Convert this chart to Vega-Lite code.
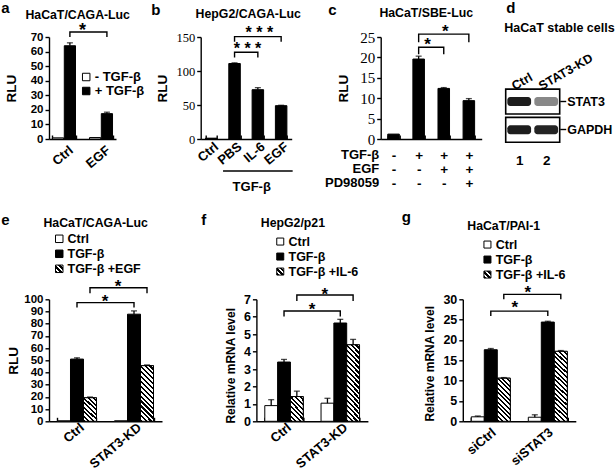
{
"$schema": "https://vega.github.io/schema/vega-lite/v6.json",
"padding": {"left": 0, "top": 0, "right": 0, "bottom": 0},
"background": "white",
"config": {
  "font": "Liberation Sans",
  "view": {"stroke": null},
  "axis": {"grid": false, "labelOverlap": false, "domainColor": "#000", "domainWidth": 1.4, "tickColor": "#000", "tickWidth": 1.4, "labelColor": "#000", "titleColor": "#000", "labelFont": "Liberation Sans", "labelFontWeight": "bold", "titleFont": "Liberation Sans", "titleFontWeight": "bold"},
  "axisY": {"tickSize": 4, "labelPadding": 2},
  "axisX": {"tickSize": -4, "tickBand": "extent", "labelAngle": -40, "labelAlign": "right", "labelBaseline": "middle"},
  "legend": {"orient": "none", "direction": "vertical", "symbolType": "square", "symbolStrokeColor": "#000", "symbolStrokeWidth": 1, "labelFont": "Liberation Sans", "labelFontWeight": "bold", "labelColor": "#000", "padding": 0, "labelOffset": 2}
},
"datasets": {
  "a": [{"grp":"Ctrl","tgf":"- TGF-β","v":0.8},{"grp":"Ctrl","tgf":"+ TGF-β","v":64,"hi":66},{"grp":"EGF","tgf":"- TGF-β","v":1},{"grp":"EGF","tgf":"+ TGF-β","v":17.4,"hi":18.4}],
  "a_br": [{"id":1,"grp":"Ctrl","tgf":"+ TGF-β","y":70,"o":1},{"id":1,"grp":"Ctrl","tgf":"+ TGF-β","y":73.4,"o":2},{"id":1,"grp":"EGF","tgf":"+ TGF-β","y":73.4,"o":3},{"id":1,"grp":"EGF","tgf":"+ TGF-β","y":70,"o":4}],
  "a_star": [{"grp":"Ctrl","tgf":"+ TGF-β","y":70.5,"t":"*"}],
  "b": [{"c":"Ctrl","v":1.2},{"c":"PBS","v":111,"hi":112},{"c":"IL-6","v":72.5,"hi":75.5},{"c":"EGF","v":49,"hi":49.6}],
  "b_br": [{"id":1,"c":"PBS","y":120,"o":1},{"id":1,"c":"PBS","y":127.5,"o":2},{"id":1,"c":"IL-6","y":127.5,"o":3},{"id":1,"c":"IL-6","y":120,"o":4},{"id":2,"c":"PBS","y":143,"o":1},{"id":2,"c":"PBS","y":150.5,"o":2},{"id":2,"c":"EGF","y":150.5,"o":3},{"id":2,"c":"EGF","y":143,"o":4}],
  "b_s1": [{"c":"IL-6","y":147.8,"t":"* * *"}],
  "b_s2": [{"c":"PBS","y":124.7,"t":"* * *"}],
  "b_tgf": [{"from":"PBS","to":"EGF"}],
  "c": [{"k":"-|-|-","v":1.2},{"k":"+|-|-","v":19.6,"hi":20.3},{"k":"+|+|-","v":12.4,"hi":12.6},{"k":"+|+|+","v":9.4,"hi":9.9}],
  "c_br": [{"id":1,"k":"+|-|-","y":20.8,"o":1},{"id":1,"k":"+|-|-","y":22.5,"o":2},{"id":1,"k":"+|+|-","y":22.5,"o":3},{"id":1,"k":"+|+|-","y":20.8,"o":4},{"id":2,"k":"+|-|-","y":23.7,"o":1},{"id":2,"k":"+|-|-","y":25.7,"o":2},{"id":2,"k":"+|+|+","y":25.7,"o":3},{"id":2,"k":"+|+|+","y":23.7,"o":4}],
  "c_s1": [{"k":"+|+|-","y":25.0,"t":"*"}],
  "c_s2": [{"k":"+|-|-","y":21.7,"t":"*"}],
  "d_box": [{"row":"STAT3"},{"row":"GAPDH"}],
  "d_band": [{"lane":"1","row":"STAT3","i":0.95},{"lane":"2","row":"STAT3","i":0.5},{"lane":"1","row":"GAPDH","i":0.95},{"lane":"2","row":"GAPDH","i":0.92}],
  "d_name": [{"lane":"1","row":"STAT3","name":"Ctrl"},{"lane":"2","row":"STAT3","name":"STAT3-KD"}],
  "e": [{"grp":"Ctrl","cond":"Ctrl","v":0.4},{"grp":"Ctrl","cond":"TGF-β","v":51,"hi":52},{"grp":"Ctrl","cond":"TGF-β +EGF","v":19.3,"hi":19.9},{"grp":"STAT3-KD","cond":"Ctrl","v":0.4},{"grp":"STAT3-KD","cond":"TGF-β","v":87.8,"hi":90.5},{"grp":"STAT3-KD","cond":"TGF-β +EGF","v":45.6,"hi":46.2}],
  "e_br": [{"id":1,"grp":"Ctrl","cond":"TGF-β","y":93.2,"o":1},{"id":1,"grp":"Ctrl","cond":"TGF-β","y":97.3,"o":2},{"id":1,"grp":"STAT3-KD","cond":"TGF-β","y":97.3,"o":3},{"id":1,"grp":"STAT3-KD","cond":"TGF-β","y":93.2,"o":4},{"id":2,"grp":"Ctrl","cond":"TGF-β +EGF","y":104.9,"o":1},{"id":2,"grp":"Ctrl","cond":"TGF-β +EGF","y":109.5,"o":2},{"id":2,"grp":"STAT3-KD","cond":"TGF-β +EGF","y":109.5,"o":3},{"id":2,"grp":"STAT3-KD","cond":"TGF-β +EGF","y":104.9,"o":4}],
  "e_star": [{"grp":"Ctrl","cond":"TGF-β","y":93.9,"t":"*"},{"grp":"Ctrl","cond":"TGF-β +EGF","y":106.3,"t":"*"}],
  "f": [{"grp":"Ctrl","cond":"Ctrl","v":0.9,"hi":1.24},{"grp":"Ctrl","cond":"TGF-β","v":3.4,"hi":3.55},{"grp":"Ctrl","cond":"TGF-β +IL-6","v":1.42,"hi":1.73},{"grp":"STAT3-KD","cond":"Ctrl","v":1.04,"hi":1.32},{"grp":"STAT3-KD","cond":"TGF-β","v":5.64,"hi":5.85},{"grp":"STAT3-KD","cond":"TGF-β +IL-6","v":4.39,"hi":4.7}],
  "f_br": [{"id":1,"grp":"Ctrl","cond":"TGF-β","y":6.01,"o":1},{"id":1,"grp":"Ctrl","cond":"TGF-β","y":6.33,"o":2},{"id":1,"grp":"STAT3-KD","cond":"TGF-β","y":6.33,"o":3},{"id":1,"grp":"STAT3-KD","cond":"TGF-β","y":6.01,"o":4},{"id":2,"grp":"Ctrl","cond":"TGF-β +IL-6","y":6.9,"o":1},{"id":2,"grp":"Ctrl","cond":"TGF-β +IL-6","y":7.25,"o":2},{"id":2,"grp":"STAT3-KD","cond":"TGF-β +IL-6","y":7.25,"o":3},{"id":2,"grp":"STAT3-KD","cond":"TGF-β +IL-6","y":6.9,"o":4}],
  "f_star": [{"grp":"Ctrl","cond":"TGF-β","y":6.1,"t":"*"},{"grp":"Ctrl","cond":"TGF-β +IL-6","y":6.96,"t":"*"}],
  "g": [{"grp":"siCtrl","cond":"Ctrl","v":1.1,"hi":1.3},{"grp":"siCtrl","cond":"TGF-β","v":17.6,"hi":17.9},{"grp":"siCtrl","cond":"TGF-β +IL-6","v":10.6,"hi":10.75},{"grp":"siSTAT3","cond":"Ctrl","v":1.0,"hi":1.6},{"grp":"siSTAT3","cond":"TGF-β","v":24.4,"hi":24.6},{"grp":"siSTAT3","cond":"TGF-β +IL-6","v":17.2,"hi":17.4}],
  "g_br": [{"id":1,"grp":"siCtrl","cond":"TGF-β","y":25.9,"o":1},{"id":1,"grp":"siCtrl","cond":"TGF-β","y":27.1,"o":2},{"id":1,"grp":"siSTAT3","cond":"TGF-β","y":27.1,"o":3},{"id":1,"grp":"siSTAT3","cond":"TGF-β","y":25.9,"o":4},{"id":2,"grp":"siCtrl","cond":"TGF-β +IL-6","y":30.0,"o":1},{"id":2,"grp":"siCtrl","cond":"TGF-β +IL-6","y":31.2,"o":2},{"id":2,"grp":"siSTAT3","cond":"TGF-β +IL-6","y":31.2,"o":3},{"id":2,"grp":"siSTAT3","cond":"TGF-β +IL-6","y":30.0,"o":4}],
  "g_star": [{"grp":"siCtrl","cond":"TGF-β","y":26.65,"t":"*"},{"grp":"siCtrl","cond":"TGF-β +IL-6","y":30.3,"t":"*"}]
},
"spacing": 262.3,
"bounds": "flush",
"resolve": {"scale": {"fill": "independent", "xOffset": "independent", "opacity": "independent"}, "legend": {"fill": "independent"}},
"vconcat": [
{
 "spacing": 84.7, "bounds": "flush",
 "resolve": {"scale": {"fill": "independent", "xOffset": "independent", "opacity": "independent"}, "legend": {"fill": "independent"}},
 "hconcat": [
 {
  "width": 67, "height": 102,
  "resolve": {"axis": {"x": "independent", "y": "independent"}},
  "layer": [
   {"data": {"name": "a"}, "mark": {"type": "bar", "stroke": "#000", "strokeWidth": 1},
    "encoding": {
     "x": {"field": "grp", "type": "nominal", "scale": {"domain": ["Ctrl","EGF"], "paddingInner": 0.378, "paddingOuter": 0.094}, "axis": {"title": null, "domain": true, "ticks": true, "labelFontSize": 13, "labelPadding": 13, "labelOffset": 7}},
     "xOffset": {"field": "tgf", "type": "nominal", "scale": {"domain": ["- TGF-β","+ TGF-β"], "paddingInner": 0.05, "paddingOuter": 0}},
     "y": {"field": "v", "type": "quantitative", "scale": {"domain": [0,70], "nice": false}, "axis": {"values": [0,10,20,30,40,50,60,70], "labelOverlap": false, "title": "RLU", "domain": true, "ticks": true, "titleFontSize": 13.5, "labelFontSize": 11.5, "titlePadding": 12}},
     "fill": {"field": "tgf", "type": "nominal", "scale": {"domain": ["- TGF-β","+ TGF-β"], "range": ["#fff","#000"]}, "legend": {"title": null, "orient": "none", "legendX": 30.7, "legendY": 33.5, "symbolSize": 56, "labelFontSize": 13, "rowPadding": 0}}
    }},
   {"data": {"name": "a"}, "transform": [{"filter": "isValid(datum.hi)"}], "mark": {"type": "rule", "color": "#000", "strokeWidth": 1.3},
    "encoding": {"x": {"field": "grp", "type": "nominal", "axis": null}, "xOffset": {"field": "tgf", "type": "nominal"}, "y": {"field": "v", "type": "quantitative", "axis": null}, "y2": {"field": "hi"}}},
   {"data": {"name": "a"}, "transform": [{"filter": "isValid(datum.hi)"}], "mark": {"type": "tick", "orient": "horizontal", "size": 6, "thickness": 1.3, "color": "#000"},
    "encoding": {"x": {"field": "grp", "type": "nominal", "axis": null}, "xOffset": {"field": "tgf", "type": "nominal"}, "y": {"field": "hi", "type": "quantitative", "axis": null}}},
   {"data": {"name": "a_br"}, "mark": {"type": "line", "color": "#000", "strokeWidth": 1.4},
    "encoding": {"x": {"field": "grp", "type": "nominal", "axis": {"orient": "top", "labels": false, "ticks": false, "domain": false, "title": "HaCaT/CAGA-Luc", "titleFontSize": 12.3, "titleAlign": "center", "titleBaseline": "alphabetic", "titleX": 28.2, "titleY": -18.6}},
     "xOffset": {"field": "tgf", "type": "nominal"}, "y": {"field": "y", "type": "quantitative", "axis": null}, "detail": {"field": "id", "type": "nominal"}, "order": {"field": "o", "type": "quantitative"}}},
   {"data": {"name": "a_star"}, "mark": {"type": "text", "fontSize": 18, "fontWeight": "bold", "font": "Liberation Sans", "dx": 12.6, "align": "center", "baseline": "alphabetic"},
    "encoding": {"x": {"field": "grp", "type": "nominal", "axis": {"orient": "top", "labels": false, "ticks": false, "domain": false, "title": "a", "titleFontSize": 15, "titleAlign": "left", "titleBaseline": "alphabetic", "titleX": -48.3, "titleY": -24.7}},
     "xOffset": {"field": "tgf", "type": "nominal"}, "y": {"field": "y", "type": "quantitative", "axis": null}, "text": {"field": "t"}}}
  ]
 },
 {
  "spacing": 89, "bounds": "flush",
  "resolve": {"scale": {"fill": "independent", "xOffset": "independent", "opacity": "independent"}, "legend": {"fill": "independent"}},
  "hconcat": [
  {
   "width": 91, "height": 102,
   "resolve": {"axis": {"x": "independent", "y": "independent"}},
   "layer": [
    {"data": {"name": "b"}, "mark": {"type": "bar", "fill": "#000", "stroke": "#000", "strokeWidth": 1},
     "encoding": {
      "x": {"field": "c", "type": "nominal", "scale": {"domain": ["Ctrl","PBS","IL-6","EGF"], "paddingInner": 0.506, "paddingOuter": 0.206}, "axis": {"title": "TGF-β", "domain": true, "ticks": true, "titleFontSize": 13, "titleX": 50.5, "titleY": 47, "titleBaseline": "middle", "titleAlign": "center", "labelFontSize": 13, "labelPadding": 9.6, "labelOffset": 5}},
      "y": {"field": "v", "type": "quantitative", "scale": {"domain": [0,150], "nice": false}, "axis": {"values": [0,50,100,150], "labelOverlap": false, "title": "RLU", "domain": true, "ticks": true, "titleFontSize": 13.5, "labelFont": "Liberation Serif", "labelFontWeight": "normal", "labelFontSize": 12.5, "titlePadding": 6}}
     }},
    {"data": {"name": "b"}, "transform": [{"filter": "isValid(datum.hi)"}], "mark": {"type": "rule", "color": "#000", "strokeWidth": 1.3},
     "encoding": {"x": {"field": "c", "type": "nominal", "axis": null}, "y": {"field": "v", "type": "quantitative", "axis": null}, "y2": {"field": "hi"}}},
    {"data": {"name": "b"}, "transform": [{"filter": "isValid(datum.hi)"}], "mark": {"type": "tick", "orient": "horizontal", "size": 6, "thickness": 1.3, "color": "#000"},
     "encoding": {"x": {"field": "c", "type": "nominal", "axis": null}, "y": {"field": "hi", "type": "quantitative", "axis": null}}},
    {"data": {"name": "b_tgf"}, "mark": {"type": "rule", "color": "#000", "strokeWidth": 1.4},
     "encoding": {"x": {"field": "from", "type": "nominal", "bandPosition": -0.5, "axis": null}, "x2": {"field": "to", "bandPosition": 1.5}, "y": {"datum": -47, "type": "quantitative", "axis": null}}},
    {"data": {"name": "b_br"}, "mark": {"type": "line", "color": "#000", "strokeWidth": 1.4},
     "encoding": {"x": {"field": "c", "type": "nominal", "axis": {"orient": "top", "labels": false, "ticks": false, "domain": false, "title": "HepG2/CAGA-Luc", "titleFontSize": 12.3, "titleAlign": "center", "titleBaseline": "alphabetic", "titleX": 47, "titleY": -19.5}},
      "y": {"field": "y", "type": "quantitative", "axis": null}, "detail": {"field": "id", "type": "nominal"}, "order": {"field": "o", "type": "quantitative"}}},
    {"data": {"name": "b_s1"}, "mark": {"type": "text", "fontSize": 16, "fontWeight": "bold", "font": "Liberation Sans", "dx": 1.5, "align": "center", "baseline": "alphabetic"},
     "encoding": {"x": {"field": "c", "type": "nominal", "axis": {"orient": "top", "labels": false, "ticks": false, "domain": false, "title": "b", "titleFontSize": 15, "titleAlign": "left", "titleBaseline": "alphabetic", "titleX": -50, "titleY": -23}},
      "y": {"field": "y", "type": "quantitative", "axis": null}, "text": {"field": "t"}}},
    {"data": {"name": "b_s2"}, "mark": {"type": "text", "fontSize": 16, "fontWeight": "bold", "font": "Liberation Sans", "dx": 13, "align": "center", "baseline": "alphabetic"},
     "encoding": {"x": {"field": "c", "type": "nominal", "axis": null}, "y": {"field": "y", "type": "quantitative", "axis": null}, "text": {"field": "t"}}}
   ]
  },
  {
   "spacing": 24, "bounds": "flush",
   "resolve": {"scale": {"fill": "independent", "xOffset": "independent", "opacity": "independent"}, "legend": {"fill": "independent"}},
   "hconcat": [
   {
    "width": 101, "height": 102,
    "resolve": {"axis": {"x": "independent", "y": "independent"}},
    "layer": [
     {"data": {"name": "c"}, "mark": {"type": "bar", "fill": "#000", "stroke": "#000", "strokeWidth": 1},
      "encoding": {
       "x": {"field": "k", "type": "nominal", "scale": {"domain": ["-|-|-","+|-|-","+|+|-","+|+|+"], "paddingInner": 0.54, "paddingOuter": 0.282},
        "axis": {"title": ["TGF-β","EGF","PD98059"], "domain": true, "ticks": true, "titleX": -2, "titleY": 9.4, "titleAlign": "right", "titleBaseline": "top", "titleAngle": 0, "titleLineHeight": 14.2, "titleFontSize": 13, "labelExpr": "split(datum.label, '|')", "labelAngle": 0, "labelAlign": "center", "labelBaseline": "top", "labelLineHeight": 14.2, "labelFontSize": 13.5, "labelPadding": 13.4, "labelOffset": 0}},
       "y": {"field": "v", "type": "quantitative", "scale": {"domain": [0,25], "nice": false}, "axis": {"values": [0,5,10,15,20,25], "labelOverlap": false, "title": "RLU", "domain": true, "ticks": true, "titleFontSize": 13.5, "labelFont": "Liberation Serif", "labelFontWeight": "normal", "labelFontSize": 15, "titlePadding": 9}}
      }},
     {"data": {"name": "c"}, "transform": [{"filter": "isValid(datum.hi)"}], "mark": {"type": "rule", "color": "#000", "strokeWidth": 1.3},
      "encoding": {"x": {"field": "k", "type": "nominal", "axis": null}, "y": {"field": "v", "type": "quantitative", "axis": null}, "y2": {"field": "hi"}}},
     {"data": {"name": "c"}, "transform": [{"filter": "isValid(datum.hi)"}], "mark": {"type": "tick", "orient": "horizontal", "size": 6, "thickness": 1.3, "color": "#000"},
      "encoding": {"x": {"field": "k", "type": "nominal", "axis": null}, "y": {"field": "hi", "type": "quantitative", "axis": null}}},
     {"data": {"name": "c_br"}, "mark": {"type": "line", "color": "#000", "strokeWidth": 1.4},
      "encoding": {"x": {"field": "k", "type": "nominal", "axis": {"orient": "top", "labels": false, "ticks": false, "domain": false, "title": "HaCaT/SBE-Luc", "titleFontSize": 12.3, "titleAlign": "center", "titleBaseline": "alphabetic", "titleX": 45, "titleY": -20.2}},
       "y": {"field": "y", "type": "quantitative", "axis": null}, "detail": {"field": "id", "type": "nominal"}, "order": {"field": "o", "type": "quantitative"}}},
     {"data": {"name": "c_s1"}, "mark": {"type": "text", "fontSize": 17, "fontWeight": "bold", "font": "Liberation Sans", "dx": 1.5, "align": "center", "baseline": "alphabetic"},
      "encoding": {"x": {"field": "k", "type": "nominal", "axis": {"orient": "top", "labels": false, "ticks": false, "domain": false, "title": "c", "titleFontSize": 15, "titleAlign": "left", "titleBaseline": "alphabetic", "titleX": -53, "titleY": -23}},
       "y": {"field": "y", "type": "quantitative", "axis": null}, "text": {"field": "t"}}},
     {"data": {"name": "c_s2"}, "mark": {"type": "text", "fontSize": 17, "fontWeight": "bold", "font": "Liberation Sans", "dx": 9, "align": "center", "baseline": "alphabetic"},
      "encoding": {"x": {"field": "k", "type": "nominal", "axis": null}, "y": {"field": "y", "type": "quantitative", "axis": null}, "text": {"field": "t"}}}
    ]
   },
   {
    "width": 54, "height": 105.3,
    "resolve": {"axis": {"x": "independent", "y": "independent"}},
    "layer": [
     {"data": {"name": "d_box"}, "mark": {"type": "rect", "fill": "#fff", "stroke": "#000", "strokeWidth": 1.6},
      "encoding": {"y": {"field": "row", "type": "nominal", "scale": {"domain": ["STAT3","GAPDH"], "paddingInner": 0.12, "paddingOuter": 0.92, "align": 1},
        "axis": {"orient": "right", "title": null, "domain": false, "ticks": true, "tickSize": 6, "tickWidth": 1.4, "labelFontSize": 12.5, "labelPadding": 1}}}},
     {"data": {"name": "d_band"}, "mark": {"type": "rect", "width": {"band": 0.88}, "height": {"band": 0.36}, "cornerRadius": 3, "fill": "#111"},
      "encoding": {"x": {"field": "lane", "type": "nominal", "scale": {"domain": ["1","2"], "paddingInner": 0, "paddingOuter": 0},
        "axis": {"orient": "bottom", "title": null, "domain": false, "ticks": false, "labelAngle": 0, "labelAlign": "center", "labelBaseline": "top", "labelFontSize": 13.5, "labelPadding": 11}},
       "y": {"field": "row", "type": "nominal", "axis": null},
       "opacity": {"field": "i", "type": "quantitative", "scale": null, "legend": null}}},
     {"data": {"name": "d_name"}, "mark": {"type": "text", "angle": -30, "align": "left", "baseline": "alphabetic", "dx": -4.5, "dy": -1, "fontSize": 12.5, "fontWeight": "bold", "font": "Liberation Sans"},
      "encoding": {"x": {"field": "lane", "type": "nominal", "axis": {"orient": "top", "labels": false, "ticks": false, "domain": false, "title": "d", "titleFontSize": 15, "titleAlign": "left", "titleBaseline": "alphabetic", "titleX": 0, "titleY": -24.7}},
       "y": {"field": "row", "type": "nominal", "bandPosition": 0, "axis": {"orient": "left", "labels": false, "ticks": false, "domain": false, "title": "HaCaT stable cells", "titleAngle": 0, "titleAlign": "left", "titleBaseline": "alphabetic", "titleX": -2, "titleY": -5.3, "titleFontSize": 12.5}},
       "text": {"field": "name"}}}
    ]
   }
   ]
  }
  ]
 }
 ]
},
{
 "spacing": 94.4, "bounds": "flush",
 "resolve": {"scale": {"fill": "independent", "xOffset": "independent", "opacity": "independent"}, "legend": {"fill": "independent"}},
 "hconcat": [
 {
  "width": 113, "height": 122,
  "resolve": {"axis": {"x": "independent", "y": "independent"}},
  "layer": [
   {"data": {"name": "e"}, "mark": {"type": "bar", "stroke": "#000", "strokeWidth": 1},
    "encoding": {
     "x": {"field": "grp", "type": "nominal", "scale": {"domain": ["Ctrl","STAT3-KD"], "paddingInner": 0.316, "paddingOuter": 0.149}, "axis": {"title": null, "domain": true, "ticks": true, "labelFontSize": 13, "labelPadding": 8, "labelOffset": 5}},
     "xOffset": {"field": "cond", "type": "nominal", "scale": {"domain": ["Ctrl","TGF-β","TGF-β +EGF"], "paddingInner": 0, "paddingOuter": 0}},
     "y": {"field": "v", "type": "quantitative", "scale": {"domain": [0,100], "nice": false}, "axis": {"values": [0,10,20,30,40,50,60,70,80,90,100], "labelOverlap": false, "title": "RLU", "domain": true, "ticks": true, "titleFontSize": 13.5, "labelFontSize": 11.5, "titlePadding": 3}},
     "fill": {"field": "cond", "type": "nominal", "scale": {"domain": ["Ctrl","TGF-β","TGF-β +EGF"], "range": ["#fff","#000",{"expr":"{gradient:'linear',x1:0,y1:1,x2:1,y2:0,stops:[{offset:0,color:'#000'},{offset:0.2,color:'#000'},{offset:0.2,color:'#fff'},{offset:0.333,color:'#fff'},{offset:0.333,color:'#000'},{offset:0.533,color:'#000'},{offset:0.533,color:'#fff'},{offset:0.667,color:'#fff'},{offset:0.667,color:'#000'},{offset:0.867,color:'#000'},{offset:0.867,color:'#fff'},{offset:1,color:'#fff'}]}"}]},
      "legend": {"title": null, "orient": "none", "legendX": 4, "legendY": -66.75, "symbolSize": 56, "labelFontSize": 12.5, "rowPadding": 2}}
    }},
   {"data": {"name": "e"}, "transform": [{"filter": "datum.cond == 'TGF-β +EGF' && datum.grp == 'Ctrl'"}],
    "mark": {"type": "bar", "stroke": "#000", "strokeWidth": 1, "fill": {"gradient":"linear","x1":0,"y1":1,"x2":0.644,"y2":-0.192,"stops":[{"offset":0,"color":"#000"},{"offset":0.0563,"color":"#000"},{"offset":0.0563,"color":"#fff"},{"offset":0.125,"color":"#fff"},{"offset":0.125,"color":"#000"},{"offset":0.1813,"color":"#000"},{"offset":0.1813,"color":"#fff"},{"offset":0.25,"color":"#fff"},{"offset":0.25,"color":"#000"},{"offset":0.3063,"color":"#000"},{"offset":0.3063,"color":"#fff"},{"offset":0.375,"color":"#fff"},{"offset":0.375,"color":"#000"},{"offset":0.4313,"color":"#000"},{"offset":0.4313,"color":"#fff"},{"offset":0.5,"color":"#fff"},{"offset":0.5,"color":"#000"},{"offset":0.5563,"color":"#000"},{"offset":0.5563,"color":"#fff"},{"offset":0.625,"color":"#fff"},{"offset":0.625,"color":"#000"},{"offset":0.6813,"color":"#000"},{"offset":0.6813,"color":"#fff"},{"offset":0.75,"color":"#fff"},{"offset":0.75,"color":"#000"},{"offset":0.8063,"color":"#000"},{"offset":0.8063,"color":"#fff"},{"offset":0.875,"color":"#fff"},{"offset":0.875,"color":"#000"},{"offset":0.9313,"color":"#000"},{"offset":0.9313,"color":"#fff"},{"offset":1,"color":"#fff"}]}},
    "encoding": {"x": {"field": "grp", "type": "nominal", "axis": null}, "xOffset": {"field": "cond", "type": "nominal"}, "y": {"field": "v", "type": "quantitative", "axis": null}}},
   {"data": {"name": "e"}, "transform": [{"filter": "datum.cond == 'TGF-β +EGF' && datum.grp == 'STAT3-KD'"}],
    "mark": {"type": "bar", "stroke": "#000", "strokeWidth": 1, "fill": {"gradient":"linear","x1":0,"y1":1,"x2":0.274,"y2":-0.17,"stops":[{"offset":0,"color":"#000"},{"offset":0.0321,"color":"#000"},{"offset":0.0321,"color":"#fff"},{"offset":0.0714,"color":"#fff"},{"offset":0.0714,"color":"#000"},{"offset":0.1036,"color":"#000"},{"offset":0.1036,"color":"#fff"},{"offset":0.1429,"color":"#fff"},{"offset":0.1429,"color":"#000"},{"offset":0.175,"color":"#000"},{"offset":0.175,"color":"#fff"},{"offset":0.2143,"color":"#fff"},{"offset":0.2143,"color":"#000"},{"offset":0.2464,"color":"#000"},{"offset":0.2464,"color":"#fff"},{"offset":0.2857,"color":"#fff"},{"offset":0.2857,"color":"#000"},{"offset":0.3179,"color":"#000"},{"offset":0.3179,"color":"#fff"},{"offset":0.3571,"color":"#fff"},{"offset":0.3571,"color":"#000"},{"offset":0.3893,"color":"#000"},{"offset":0.3893,"color":"#fff"},{"offset":0.4286,"color":"#fff"},{"offset":0.4286,"color":"#000"},{"offset":0.4607,"color":"#000"},{"offset":0.4607,"color":"#fff"},{"offset":0.5,"color":"#fff"},{"offset":0.5,"color":"#000"},{"offset":0.5321,"color":"#000"},{"offset":0.5321,"color":"#fff"},{"offset":0.5714,"color":"#fff"},{"offset":0.5714,"color":"#000"},{"offset":0.6036,"color":"#000"},{"offset":0.6036,"color":"#fff"},{"offset":0.6429,"color":"#fff"},{"offset":0.6429,"color":"#000"},{"offset":0.675,"color":"#000"},{"offset":0.675,"color":"#fff"},{"offset":0.7143,"color":"#fff"},{"offset":0.7143,"color":"#000"},{"offset":0.7464,"color":"#000"},{"offset":0.7464,"color":"#fff"},{"offset":0.7857,"color":"#fff"},{"offset":0.7857,"color":"#000"},{"offset":0.8179,"color":"#000"},{"offset":0.8179,"color":"#fff"},{"offset":0.8571,"color":"#fff"},{"offset":0.8571,"color":"#000"},{"offset":0.8893,"color":"#000"},{"offset":0.8893,"color":"#fff"},{"offset":0.9286,"color":"#fff"},{"offset":0.9286,"color":"#000"},{"offset":0.9607,"color":"#000"},{"offset":0.9607,"color":"#fff"},{"offset":1,"color":"#fff"}]}},
    "encoding": {"x": {"field": "grp", "type": "nominal", "axis": null}, "xOffset": {"field": "cond", "type": "nominal"}, "y": {"field": "v", "type": "quantitative", "axis": null}}},
   {"data": {"name": "e"}, "transform": [{"filter": "isValid(datum.hi)"}], "mark": {"type": "rule", "color": "#000", "strokeWidth": 1.3},
    "encoding": {"x": {"field": "grp", "type": "nominal", "axis": null}, "xOffset": {"field": "cond", "type": "nominal"}, "y": {"field": "v", "type": "quantitative", "axis": null}, "y2": {"field": "hi"}}},
   {"data": {"name": "e"}, "transform": [{"filter": "isValid(datum.hi)"}], "mark": {"type": "tick", "orient": "horizontal", "size": 6, "thickness": 1.3, "color": "#000"},
    "encoding": {"x": {"field": "grp", "type": "nominal", "axis": null}, "xOffset": {"field": "cond", "type": "nominal"}, "y": {"field": "hi", "type": "quantitative", "axis": null}}},
   {"data": {"name": "e_br"}, "mark": {"type": "line", "color": "#000", "strokeWidth": 1.4},
    "encoding": {"x": {"field": "grp", "type": "nominal", "axis": {"orient": "top", "labels": false, "ticks": false, "domain": false, "title": "HaCaT/CAGA-Luc", "titleFontSize": 12.3, "titleAlign": "center", "titleBaseline": "alphabetic", "titleX": 46.2, "titleY": -72.9}},
     "xOffset": {"field": "cond", "type": "nominal"}, "y": {"field": "y", "type": "quantitative", "axis": null}, "detail": {"field": "id", "type": "nominal"}, "order": {"field": "o", "type": "quantitative"}}},
   {"data": {"name": "e_star"}, "mark": {"type": "text", "fontSize": 17, "fontWeight": "bold", "font": "Liberation Sans", "dx": 28, "align": "center", "baseline": "alphabetic"},
    "encoding": {"x": {"field": "grp", "type": "nominal", "axis": {"orient": "top", "labels": false, "ticks": false, "domain": false, "title": "e", "titleFontSize": 15, "titleAlign": "left", "titleBaseline": "alphabetic", "titleX": -48.3, "titleY": -75}},
     "xOffset": {"field": "cond", "type": "nominal"}, "y": {"field": "y", "type": "quantitative", "axis": null}, "text": {"field": "t"}}}
  ]
 },
 {
   "width": 111.5, "height": 122,
   "resolve": {"axis": {"x": "independent", "y": "independent"}},
   "layer": [
    {"data": {"name": "f"}, "mark": {"type": "bar", "stroke": "#000", "strokeWidth": 1},
     "encoding": {
      "x": {"field": "grp", "type": "nominal", "scale": {"domain": ["Ctrl","STAT3-KD"], "paddingInner": 0.316, "paddingOuter": 0.149}, "axis": {"title": null, "domain": true, "ticks": true, "labelFontSize": 13, "labelPadding": 8, "labelOffset": 5}},
      "xOffset": {"field": "cond", "type": "nominal", "scale": {"domain": ["Ctrl","TGF-β","TGF-β +IL-6"], "paddingInner": 0, "paddingOuter": 0}},
      "y": {"field": "v", "type": "quantitative", "scale": {"domain": [0,7], "nice": false}, "axis": {"values": [0,1,2,3,4,5,6,7], "labels": true, "labelOverlap": false, "title": null, "domain": true, "ticks": true, "labelFontSize": 12.5}},
      "fill": {"field": "cond", "type": "nominal", "scale": {"domain": ["Ctrl","TGF-β","TGF-β +IL-6"], "range": ["#fff","#000",{"expr":"{gradient:'linear',x1:0,y1:1,x2:1,y2:0,stops:[{offset:0,color:'#000'},{offset:0.2,color:'#000'},{offset:0.2,color:'#fff'},{offset:0.333,color:'#fff'},{offset:0.333,color:'#000'},{offset:0.533,color:'#000'},{offset:0.533,color:'#fff'},{offset:0.667,color:'#fff'},{offset:0.667,color:'#000'},{offset:0.867,color:'#000'},{offset:0.867,color:'#fff'},{offset:1,color:'#fff'}]}"}]},
       "legend": {"title": null, "orient": "none", "legendX": 17.6, "legendY": -64, "symbolSize": 49, "labelFontSize": 12.5, "rowPadding": 2}}
     }},
    {"data": {"name": "f"}, "transform": [{"filter": "datum.cond == 'TGF-β +IL-6' && datum.grp == 'Ctrl'"}],
     "mark": {"type": "bar", "stroke": "#000", "strokeWidth": 1, "fill": {"gradient":"linear","x1":0,"y1":1,"x2":0.644,"y2":-0.192,"stops":[{"offset":0,"color":"#000"},{"offset":0.0563,"color":"#000"},{"offset":0.0563,"color":"#fff"},{"offset":0.125,"color":"#fff"},{"offset":0.125,"color":"#000"},{"offset":0.1813,"color":"#000"},{"offset":0.1813,"color":"#fff"},{"offset":0.25,"color":"#fff"},{"offset":0.25,"color":"#000"},{"offset":0.3063,"color":"#000"},{"offset":0.3063,"color":"#fff"},{"offset":0.375,"color":"#fff"},{"offset":0.375,"color":"#000"},{"offset":0.4313,"color":"#000"},{"offset":0.4313,"color":"#fff"},{"offset":0.5,"color":"#fff"},{"offset":0.5,"color":"#000"},{"offset":0.5563,"color":"#000"},{"offset":0.5563,"color":"#fff"},{"offset":0.625,"color":"#fff"},{"offset":0.625,"color":"#000"},{"offset":0.6813,"color":"#000"},{"offset":0.6813,"color":"#fff"},{"offset":0.75,"color":"#fff"},{"offset":0.75,"color":"#000"},{"offset":0.8063,"color":"#000"},{"offset":0.8063,"color":"#fff"},{"offset":0.875,"color":"#fff"},{"offset":0.875,"color":"#000"},{"offset":0.9313,"color":"#000"},{"offset":0.9313,"color":"#fff"},{"offset":1,"color":"#fff"}]}},
     "encoding": {"x": {"field": "grp", "type": "nominal", "axis": null}, "xOffset": {"field": "cond", "type": "nominal"}, "y": {"field": "v", "type": "quantitative", "axis": null}}},
    {"data": {"name": "f"}, "transform": [{"filter": "datum.cond == 'TGF-β +IL-6' && datum.grp == 'STAT3-KD'"}],
     "mark": {"type": "bar", "stroke": "#000", "strokeWidth": 1, "fill": {"gradient":"linear","x1":0,"y1":1,"x2":0.203,"y2":-0.142,"stops":[{"offset":0,"color":"#000"},{"offset":0.025,"color":"#000"},{"offset":0.025,"color":"#fff"},{"offset":0.0556,"color":"#fff"},{"offset":0.0556,"color":"#000"},{"offset":0.0806,"color":"#000"},{"offset":0.0806,"color":"#fff"},{"offset":0.1111,"color":"#fff"},{"offset":0.1111,"color":"#000"},{"offset":0.1361,"color":"#000"},{"offset":0.1361,"color":"#fff"},{"offset":0.1667,"color":"#fff"},{"offset":0.1667,"color":"#000"},{"offset":0.1917,"color":"#000"},{"offset":0.1917,"color":"#fff"},{"offset":0.2222,"color":"#fff"},{"offset":0.2222,"color":"#000"},{"offset":0.2472,"color":"#000"},{"offset":0.2472,"color":"#fff"},{"offset":0.2778,"color":"#fff"},{"offset":0.2778,"color":"#000"},{"offset":0.3028,"color":"#000"},{"offset":0.3028,"color":"#fff"},{"offset":0.3333,"color":"#fff"},{"offset":0.3333,"color":"#000"},{"offset":0.3583,"color":"#000"},{"offset":0.3583,"color":"#fff"},{"offset":0.3889,"color":"#fff"},{"offset":0.3889,"color":"#000"},{"offset":0.4139,"color":"#000"},{"offset":0.4139,"color":"#fff"},{"offset":0.4444,"color":"#fff"},{"offset":0.4444,"color":"#000"},{"offset":0.4694,"color":"#000"},{"offset":0.4694,"color":"#fff"},{"offset":0.5,"color":"#fff"},{"offset":0.5,"color":"#000"},{"offset":0.525,"color":"#000"},{"offset":0.525,"color":"#fff"},{"offset":0.5556,"color":"#fff"},{"offset":0.5556,"color":"#000"},{"offset":0.5806,"color":"#000"},{"offset":0.5806,"color":"#fff"},{"offset":0.6111,"color":"#fff"},{"offset":0.6111,"color":"#000"},{"offset":0.6361,"color":"#000"},{"offset":0.6361,"color":"#fff"},{"offset":0.6667,"color":"#fff"},{"offset":0.6667,"color":"#000"},{"offset":0.6917,"color":"#000"},{"offset":0.6917,"color":"#fff"},{"offset":0.7222,"color":"#fff"},{"offset":0.7222,"color":"#000"},{"offset":0.7472,"color":"#000"},{"offset":0.7472,"color":"#fff"},{"offset":0.7778,"color":"#fff"},{"offset":0.7778,"color":"#000"},{"offset":0.8028,"color":"#000"},{"offset":0.8028,"color":"#fff"},{"offset":0.8333,"color":"#fff"},{"offset":0.8333,"color":"#000"},{"offset":0.8583,"color":"#000"},{"offset":0.8583,"color":"#fff"},{"offset":0.8889,"color":"#fff"},{"offset":0.8889,"color":"#000"},{"offset":0.9139,"color":"#000"},{"offset":0.9139,"color":"#fff"},{"offset":0.9444,"color":"#fff"},{"offset":0.9444,"color":"#000"},{"offset":0.9694,"color":"#000"},{"offset":0.9694,"color":"#fff"},{"offset":1,"color":"#fff"}]}},
     "encoding": {"x": {"field": "grp", "type": "nominal", "axis": null}, "xOffset": {"field": "cond", "type": "nominal"}, "y": {"field": "v", "type": "quantitative", "axis": null}}},
    {"data": {"name": "f"}, "transform": [{"filter": "isValid(datum.hi)"}], "mark": {"type": "rule", "color": "#000", "strokeWidth": 1.3},
     "encoding": {"x": {"field": "grp", "type": "nominal", "axis": null}, "xOffset": {"field": "cond", "type": "nominal"}, "y": {"field": "v", "type": "quantitative", "axis": null}, "y2": {"field": "hi"}}},
    {"data": {"name": "f"}, "transform": [{"filter": "isValid(datum.hi)"}], "mark": {"type": "tick", "orient": "horizontal", "size": 6, "thickness": 1.3, "color": "#000"},
     "encoding": {"x": {"field": "grp", "type": "nominal", "axis": null}, "xOffset": {"field": "cond", "type": "nominal"}, "y": {"field": "hi", "type": "quantitative", "axis": null}}},
    {"data": {"name": "f_br"}, "mark": {"type": "line", "color": "#000", "strokeWidth": 1.4},
     "encoding": {"x": {"field": "grp", "type": "nominal", "axis": {"orient": "top", "labels": false, "ticks": false, "domain": false, "title": "HepG2/p21", "titleFontSize": 12.3, "titleAlign": "center", "titleBaseline": "alphabetic", "titleX": 36, "titleY": -72.3}},
      "xOffset": {"field": "cond", "type": "nominal"}, "y": {"field": "y", "type": "quantitative", "axis": {"orient": "left", "labels": false, "ticks": false, "domain": false, "title": "Relative mRNA level", "titleFontSize": 12, "titleAngle": -90, "titleAlign": "center", "titleBaseline": "middle", "titleX": -25.7, "titleY": 66}}, "detail": {"field": "id", "type": "nominal"}, "order": {"field": "o", "type": "quantitative"}}},
    {"data": {"name": "f_star"}, "mark": {"type": "text", "fontSize": 17, "fontWeight": "bold", "font": "Liberation Sans", "dx": 28, "align": "center", "baseline": "alphabetic"},
     "encoding": {"x": {"field": "grp", "type": "nominal", "axis": {"orient": "top", "labels": false, "ticks": false, "domain": false, "title": "f", "titleFontSize": 15, "titleAlign": "left", "titleBaseline": "alphabetic", "titleX": -55.7, "titleY": -75}},
      "xOffset": {"field": "cond", "type": "nominal"}, "y": {"field": "y", "type": "quantitative", "axis": null}, "text": {"field": "t"}}}
   ]
 },
 {
   "width": 113, "height": 122,
   "resolve": {"axis": {"x": "independent", "y": "independent"}},
   "layer": [
    {"data": {"name": "g"}, "mark": {"type": "bar", "stroke": "#000", "strokeWidth": 1},
     "encoding": {
      "x": {"field": "grp", "type": "nominal", "scale": {"domain": ["siCtrl","siSTAT3"], "paddingInner": 0.316, "paddingOuter": 0.149}, "axis": {"title": null, "domain": true, "ticks": true, "labelFontSize": 13, "labelPadding": 13, "labelOffset": 3}},
      "xOffset": {"field": "cond", "type": "nominal", "scale": {"domain": ["Ctrl","TGF-β","TGF-β +IL-6"], "paddingInner": 0, "paddingOuter": 0}},
      "y": {"field": "v", "type": "quantitative", "scale": {"domain": [0,30], "nice": false}, "axis": {"values": [0,5,10,15,20,25,30], "labels": true, "labelOverlap": false, "title": null, "domain": true, "ticks": true, "labelFontSize": 12.5}},
      "fill": {"field": "cond", "type": "nominal", "scale": {"domain": ["Ctrl","TGF-β","TGF-β +IL-6"], "range": ["#fff","#000",{"expr":"{gradient:'linear',x1:0,y1:1,x2:1,y2:0,stops:[{offset:0,color:'#000'},{offset:0.2,color:'#000'},{offset:0.2,color:'#fff'},{offset:0.333,color:'#fff'},{offset:0.333,color:'#000'},{offset:0.533,color:'#000'},{offset:0.533,color:'#fff'},{offset:0.667,color:'#fff'},{offset:0.667,color:'#000'},{offset:0.867,color:'#000'},{offset:0.867,color:'#fff'},{offset:1,color:'#fff'}]}"}]},
       "legend": {"title": null, "orient": "none", "legendX": 18.4, "legendY": -61, "symbolSize": 49, "labelFontSize": 12.5, "rowPadding": 2}}
     }},
    {"data": {"name": "g"}, "transform": [{"filter": "datum.cond == 'TGF-β +IL-6' && datum.grp == 'siCtrl'"}],
     "mark": {"type": "bar", "stroke": "#000", "strokeWidth": 1, "fill": {"gradient":"linear","x1":0,"y1":1,"x2":0.36,"y2":-0.193,"stops":[{"offset":0,"color":"#000"},{"offset":0.0375,"color":"#000"},{"offset":0.0375,"color":"#fff"},{"offset":0.0833,"color":"#fff"},{"offset":0.0833,"color":"#000"},{"offset":0.1208,"color":"#000"},{"offset":0.1208,"color":"#fff"},{"offset":0.1667,"color":"#fff"},{"offset":0.1667,"color":"#000"},{"offset":0.2042,"color":"#000"},{"offset":0.2042,"color":"#fff"},{"offset":0.25,"color":"#fff"},{"offset":0.25,"color":"#000"},{"offset":0.2875,"color":"#000"},{"offset":0.2875,"color":"#fff"},{"offset":0.3333,"color":"#fff"},{"offset":0.3333,"color":"#000"},{"offset":0.3708,"color":"#000"},{"offset":0.3708,"color":"#fff"},{"offset":0.4167,"color":"#fff"},{"offset":0.4167,"color":"#000"},{"offset":0.4542,"color":"#000"},{"offset":0.4542,"color":"#fff"},{"offset":0.5,"color":"#fff"},{"offset":0.5,"color":"#000"},{"offset":0.5375,"color":"#000"},{"offset":0.5375,"color":"#fff"},{"offset":0.5833,"color":"#fff"},{"offset":0.5833,"color":"#000"},{"offset":0.6208,"color":"#000"},{"offset":0.6208,"color":"#fff"},{"offset":0.6667,"color":"#fff"},{"offset":0.6667,"color":"#000"},{"offset":0.7042,"color":"#000"},{"offset":0.7042,"color":"#fff"},{"offset":0.75,"color":"#fff"},{"offset":0.75,"color":"#000"},{"offset":0.7875,"color":"#000"},{"offset":0.7875,"color":"#fff"},{"offset":0.8333,"color":"#fff"},{"offset":0.8333,"color":"#000"},{"offset":0.8708,"color":"#000"},{"offset":0.8708,"color":"#fff"},{"offset":0.9167,"color":"#fff"},{"offset":0.9167,"color":"#000"},{"offset":0.9542,"color":"#000"},{"offset":0.9542,"color":"#fff"},{"offset":1,"color":"#fff"}]}},
     "encoding": {"x": {"field": "grp", "type": "nominal", "axis": null}, "xOffset": {"field": "cond", "type": "nominal"}, "y": {"field": "v", "type": "quantitative", "axis": null}}},
    {"data": {"name": "g"}, "transform": [{"filter": "datum.cond == 'TGF-β +IL-6' && datum.grp == 'siSTAT3'"}],
     "mark": {"type": "bar", "stroke": "#000", "strokeWidth": 1, "fill": {"gradient":"linear","x1":0,"y1":1,"x2":0.203,"y2":-0.142,"stops":[{"offset":0,"color":"#000"},{"offset":0.025,"color":"#000"},{"offset":0.025,"color":"#fff"},{"offset":0.0556,"color":"#fff"},{"offset":0.0556,"color":"#000"},{"offset":0.0806,"color":"#000"},{"offset":0.0806,"color":"#fff"},{"offset":0.1111,"color":"#fff"},{"offset":0.1111,"color":"#000"},{"offset":0.1361,"color":"#000"},{"offset":0.1361,"color":"#fff"},{"offset":0.1667,"color":"#fff"},{"offset":0.1667,"color":"#000"},{"offset":0.1917,"color":"#000"},{"offset":0.1917,"color":"#fff"},{"offset":0.2222,"color":"#fff"},{"offset":0.2222,"color":"#000"},{"offset":0.2472,"color":"#000"},{"offset":0.2472,"color":"#fff"},{"offset":0.2778,"color":"#fff"},{"offset":0.2778,"color":"#000"},{"offset":0.3028,"color":"#000"},{"offset":0.3028,"color":"#fff"},{"offset":0.3333,"color":"#fff"},{"offset":0.3333,"color":"#000"},{"offset":0.3583,"color":"#000"},{"offset":0.3583,"color":"#fff"},{"offset":0.3889,"color":"#fff"},{"offset":0.3889,"color":"#000"},{"offset":0.4139,"color":"#000"},{"offset":0.4139,"color":"#fff"},{"offset":0.4444,"color":"#fff"},{"offset":0.4444,"color":"#000"},{"offset":0.4694,"color":"#000"},{"offset":0.4694,"color":"#fff"},{"offset":0.5,"color":"#fff"},{"offset":0.5,"color":"#000"},{"offset":0.525,"color":"#000"},{"offset":0.525,"color":"#fff"},{"offset":0.5556,"color":"#fff"},{"offset":0.5556,"color":"#000"},{"offset":0.5806,"color":"#000"},{"offset":0.5806,"color":"#fff"},{"offset":0.6111,"color":"#fff"},{"offset":0.6111,"color":"#000"},{"offset":0.6361,"color":"#000"},{"offset":0.6361,"color":"#fff"},{"offset":0.6667,"color":"#fff"},{"offset":0.6667,"color":"#000"},{"offset":0.6917,"color":"#000"},{"offset":0.6917,"color":"#fff"},{"offset":0.7222,"color":"#fff"},{"offset":0.7222,"color":"#000"},{"offset":0.7472,"color":"#000"},{"offset":0.7472,"color":"#fff"},{"offset":0.7778,"color":"#fff"},{"offset":0.7778,"color":"#000"},{"offset":0.8028,"color":"#000"},{"offset":0.8028,"color":"#fff"},{"offset":0.8333,"color":"#fff"},{"offset":0.8333,"color":"#000"},{"offset":0.8583,"color":"#000"},{"offset":0.8583,"color":"#fff"},{"offset":0.8889,"color":"#fff"},{"offset":0.8889,"color":"#000"},{"offset":0.9139,"color":"#000"},{"offset":0.9139,"color":"#fff"},{"offset":0.9444,"color":"#fff"},{"offset":0.9444,"color":"#000"},{"offset":0.9694,"color":"#000"},{"offset":0.9694,"color":"#fff"},{"offset":1,"color":"#fff"}]}},
     "encoding": {"x": {"field": "grp", "type": "nominal", "axis": null}, "xOffset": {"field": "cond", "type": "nominal"}, "y": {"field": "v", "type": "quantitative", "axis": null}}},
    {"data": {"name": "g"}, "transform": [{"filter": "isValid(datum.hi)"}], "mark": {"type": "rule", "color": "#000", "strokeWidth": 1.3},
     "encoding": {"x": {"field": "grp", "type": "nominal", "axis": null}, "xOffset": {"field": "cond", "type": "nominal"}, "y": {"field": "v", "type": "quantitative", "axis": null}, "y2": {"field": "hi"}}},
    {"data": {"name": "g"}, "transform": [{"filter": "isValid(datum.hi)"}], "mark": {"type": "tick", "orient": "horizontal", "size": 6, "thickness": 1.3, "color": "#000"},
     "encoding": {"x": {"field": "grp", "type": "nominal", "axis": null}, "xOffset": {"field": "cond", "type": "nominal"}, "y": {"field": "hi", "type": "quantitative", "axis": null}}},
    {"data": {"name": "g_br"}, "mark": {"type": "line", "color": "#000", "strokeWidth": 1.4},
     "encoding": {"x": {"field": "grp", "type": "nominal", "axis": {"orient": "top", "labels": false, "ticks": false, "domain": false, "title": "HaCaT/PAI-1", "titleFontSize": 12.3, "titleAlign": "center", "titleBaseline": "alphabetic", "titleX": 40.4, "titleY": -69.6}},
      "xOffset": {"field": "cond", "type": "nominal"}, "y": {"field": "y", "type": "quantitative", "axis": {"orient": "left", "labels": false, "ticks": false, "domain": false, "title": "Relative mRNA level", "titleFontSize": 12, "titleAngle": -90, "titleAlign": "center", "titleBaseline": "middle", "titleX": -33.6, "titleY": 64}}, "detail": {"field": "id", "type": "nominal"}, "order": {"field": "o", "type": "quantitative"}}},
    {"data": {"name": "g_star"}, "mark": {"type": "text", "fontSize": 17, "fontWeight": "bold", "font": "Liberation Sans", "dx": 24, "align": "center", "baseline": "alphabetic"},
     "encoding": {"x": {"field": "grp", "type": "nominal", "axis": {"orient": "top", "labels": false, "ticks": false, "domain": false, "title": "g", "titleFontSize": 15, "titleAlign": "left", "titleBaseline": "alphabetic", "titleX": -61.6, "titleY": -77.5}},
      "xOffset": {"field": "cond", "type": "nominal"}, "y": {"field": "y", "type": "quantitative", "axis": null}, "text": {"field": "t"}}}
   ]
 }
 ]
}
]
}
